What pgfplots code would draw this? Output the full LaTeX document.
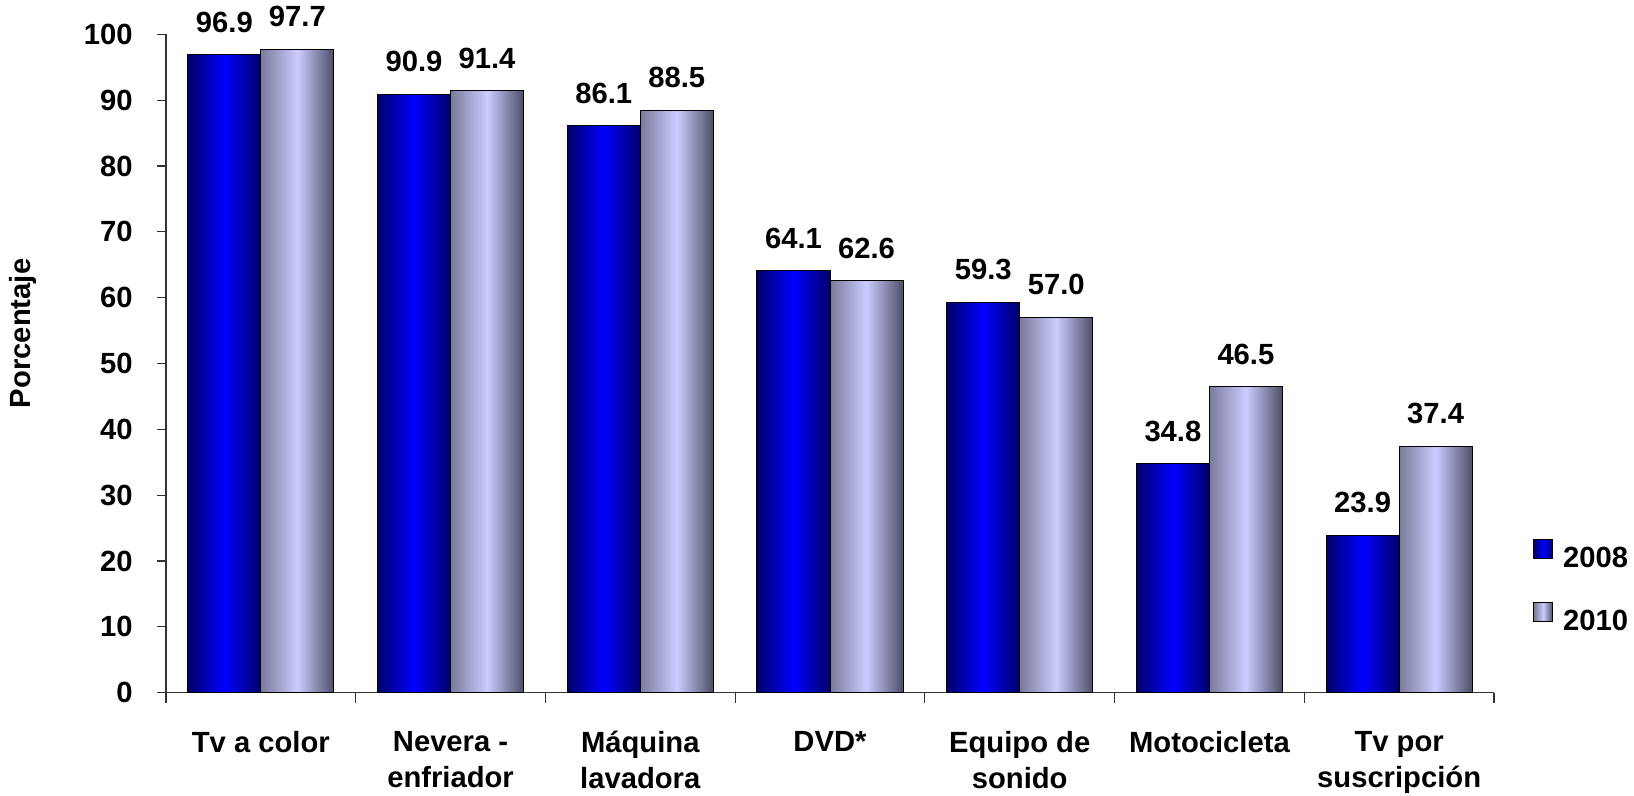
\documentclass[border=0pt]{standalone}
\usepackage{pgfplots}
\pgfplotsset{compat=1.18}
\usepackage{fontspec}
\setmainfont{Liberation Sans}
\definecolor{bEdge}{RGB}{0,0,105}
\definecolor{bMid}{RGB}{0,0,255}
\definecolor{gLeft}{RGB}{122,122,155}
\definecolor{gMid}{RGB}{204,204,255}
\definecolor{gRight}{RGB}{78,78,104}
\newcommand{\lf}{\bfseries\fontsize{14.6}{18}\selectfont}
\begin{document}
\begin{tikzpicture}[x=1pt,y=1pt]
\useasboundingbox (0,0) rectangle (817,398);
\begin{axis}[
  at={(83pt,51.65pt)}, anchor=south west,
  scale only axis, width=664pt, height=329.2pt,
  xmin=-0.5, xmax=6.5, ymin=0, ymax=100,
  clip=false,
  /pgf/number format/assume math mode=true,
  axis x line=bottom, axis y line=left,
  axis line style={-, line width=0.6pt, draw=black!80},
  tick style={line width=0.6pt, draw=black!80},
  tick align=outside,
  major tick length=4.5pt, minor tick length=5pt,
  xtick={0,...,6},
  major x tick style={draw=none},
  minor xtick={-0.5,0.5,...,6.5},
  xticklabels={Tv a color,{Nevera -\\enfriador},{Máquina\\lavadora},DVD*,{Equipo de\\sonido},Motocicleta,{Tv por\\suscripción}},
  xticklabel style={align=center, anchor=north, inner sep=0pt, yshift=-14.5pt, font=\lf},
  ytick={0,10,...,100},
  yticklabel style={anchor=east, inner sep=0pt, xshift=-12pt, font=\lf},
  every axis y label/.style={at={(axis description cs:-0.1077,0.5457)}, rotate=90, anchor=center, font=\lf},
  ylabel={Porcentaje},
  ybar=0pt, bar width=36.5pt,
  nodes near coords={\pgfmathprintnumber[fixed,fixed zerofill,precision=1]{\pgfplotspointmeta}},
  every node near coord/.append style={font=\lf, inner sep=0pt, text depth=0pt, anchor=south, yshift=11pt, text=black},
  s08/.style={draw=black, line width=0.5pt, left color=bEdge, right color=bEdge, middle color=bMid},
  s10/.style={draw=black, line width=0.5pt, left color=gLeft, right color=gRight, middle color=gMid},
  b08/.style={s08, bar shift=-18.25pt, forget plot},
  b10/.style={s10, bar shift=18.25pt, forget plot},
  mylegend/.style={legend image code/.code={\draw[##1, draw=black, line width=0.5pt] (0pt,0pt) rectangle (9.35pt,9.35pt);}},
  legend style={at={(1.0294,0.2335)}, anchor=north west, draw=none, fill=none, inner sep=0pt, font=\lf,
    nodes={inner sep=0pt}, column sep=5pt, row sep=16pt},
  legend cell align=left,
]
% 2008
\addplot[b08] coordinates {(0,96.9)};
\addplot[b08] coordinates {(1,90.9)};
\addplot[b08] coordinates {(2,86.1)};
\addplot[b08] coordinates {(3,64.1)};
\addplot[b08] coordinates {(4,59.3)};
\addplot[b08] coordinates {(5,34.8)};
\addplot[b08] coordinates {(6,23.9)};
% 2010
\addplot[b10] coordinates {(0,97.7)};
\addplot[b10] coordinates {(1,91.4)};
\addplot[b10] coordinates {(2,88.5)};
\addplot[b10] coordinates {(3,62.6)};
\addplot[b10] coordinates {(4,57.0)};
\addplot[b10] coordinates {(5,46.5)};
\addplot[b10] coordinates {(6,37.4)};
\addlegendimage{s08, mylegend}
\addlegendimage{s10, mylegend}
\legend{2008,2010}
\end{axis}
\end{tikzpicture}
\end{document}
